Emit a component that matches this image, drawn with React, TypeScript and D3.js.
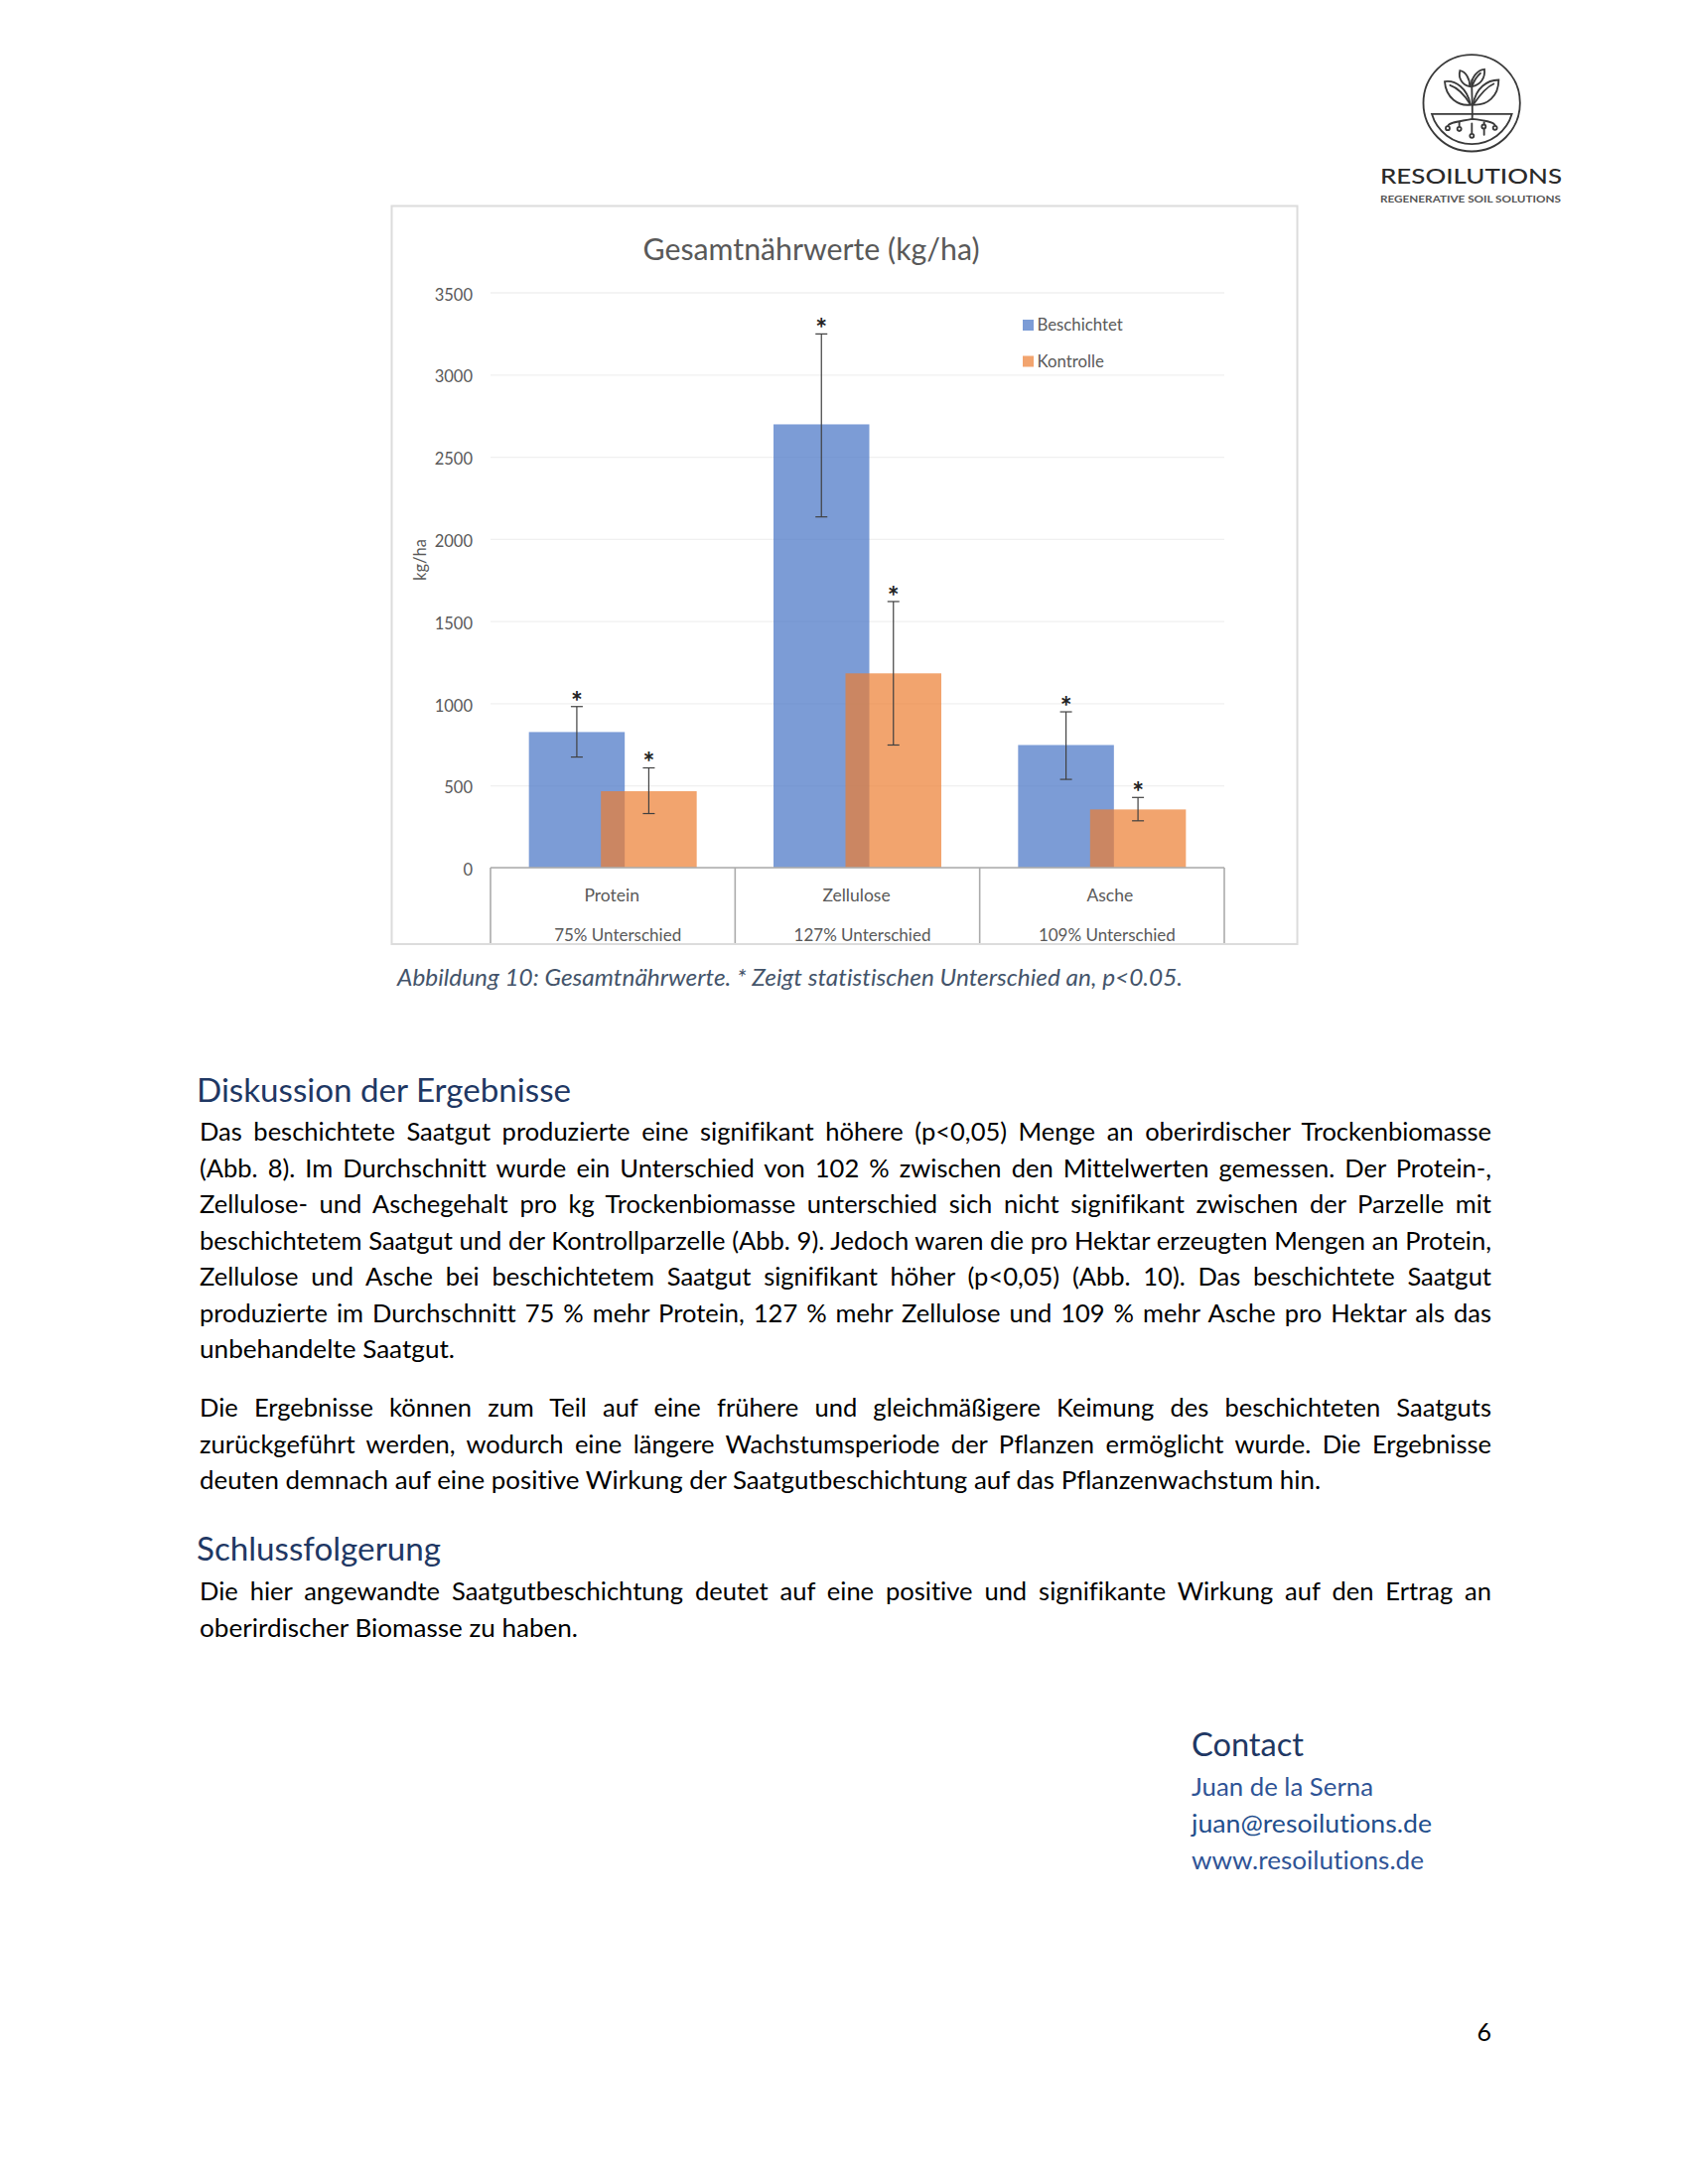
import * as d3 from 'd3';
import { useRef, useEffect } from 'react';

const categories = ['Protein', 'Zellulose', 'Asche'];
const differences = ['75% Unterschied', '127% Unterschied', '109% Unterschied'];
const seriesNames = ['Beschichtet', 'Kontrolle'];
const beschichtet = [825, 2697, 746];
const kontrolle = [465, 1182, 354];
const beschichtetLow = [673, 2134, 537];
const beschichtetHigh = [980, 3247, 948];
const kontrolleLow = [329, 746, 285];
const kontrolleHigh = [607, 1619, 427];
const yTicks = [0, 500, 1000, 1500, 2000, 2500, 3000, 3500];

const paragraph1 = [
    'Das beschichtete Saatgut produzierte eine signifikant höhere (p<0,05) Menge an oberirdischer Trockenbiomasse',
    '(Abb. 8). Im Durchschnitt wurde ein Unterschied von 102 % zwischen den Mittelwerten gemessen. Der Protein-,',
    'Zellulose- und Aschegehalt pro kg Trockenbiomasse unterschied sich nicht signifikant zwischen der Parzelle mit',
    'beschichtetem Saatgut und der Kontrollparzelle (Abb. 9). Jedoch waren die pro Hektar erzeugten Mengen an Protein,',
    'Zellulose und Asche bei beschichtetem Saatgut signifikant höher (p<0,05) (Abb. 10). Das beschichtete Saatgut',
    'produzierte im Durchschnitt 75 % mehr Protein, 127 % mehr Zellulose und 109 % mehr Asche pro Hektar als das',
    'unbehandelte Saatgut.',
];
const paragraph2 = [
    'Die Ergebnisse können zum Teil auf eine frühere und gleichmäßigere Keimung des beschichteten Saatguts',
    'zurückgeführt werden, wodurch eine längere Wachstumsperiode der Pflanzen ermöglicht wurde. Die Ergebnisse',
    'deuten demnach auf eine positive Wirkung der Saatgutbeschichtung auf das Pflanzenwachstum hin.',
];
const paragraph3 = [
    'Die hier angewandte Saatgutbeschichtung deutet auf eine positive und signifikante Wirkung auf den Ertrag an',
    'oberirdischer Biomasse zu haben.',
];
const contactLines = ['Juan de la Serna', 'juan@resoilutions.de', 'www.resoilutions.de'];

const FONT = 'Lato, "Noto Sans", sans-serif';
const colors = ['#4472C4', '#ED7D31'];
const barWidth = 96.5;
const pairOffset = 36.25;
const labelNudge = [-1, -1, 8];
const diffNudge = [5, 5, 5];

const App = () => {
    const svgRef = useRef<SVGSVGElement | null>(null);

    useEffect(() => {
        const svg = d3.select(svgRef.current);
        svg.selectAll('*').remove();
        svg.style('font-family', FONT).style('font-variant-ligatures', 'none');

        // text helper, width is optional and squeezes the line to the measured width of the reference
        const put = (parent: any, str: string, x: number, y: number, size: number, fill: string, width?: number) => {
            const t = parent.append('text')
                .attr('x', x)
                .attr('y', y)
                .attr('font-size', size)
                .attr('fill', fill)
                .text(str);
            if (width) t.attr('textLength', width).attr('lengthAdjust', 'spacingAndGlyphs');
            return t;
        };

        // chart frame
        svg.append('rect')
            .attr('x', 394.5).attr('y', 207.5)
            .attr('width', 912).attr('height', 743.5)
            .attr('fill', '#fff')
            .attr('stroke', '#DCDCDC')
            .attr('stroke-width', 2);

        const x = d3.scaleBand().domain(categories).range([494, 1233]);
        const inner = d3.scalePoint().domain(seriesNames).range([-pairOffset, pairOffset]);
        const y = d3.scaleLinear().domain([0, 3500]).range([874, 294.5]);
        const cx = (c: string, s: string) => x(c)! + x.bandwidth() / 2 + inner(s)!;

        // grid and y labels
        const yAxis = svg.append('g')
            .attr('transform', 'translate(494,0)')
            .call(d3.axisLeft(y).tickValues(yTicks).tickSize(-739).tickPadding(18).tickFormat(d => String(d)));
        yAxis.select('.domain').remove();
        yAxis.selectAll('.tick line').attr('stroke', '#F0F0F0').attr('stroke-width', 1.3);
        yAxis.selectAll('.tick text')
            .attr('fill', '#595959')
            .attr('font-size', 16.5)
            .attr('dy', '0.46em')
            .attr('font-family', FONT);

        svg.append('text')
            .attr('transform', 'translate(429,564) rotate(-90)')
            .attr('text-anchor', 'middle')
            .attr('font-size', 16.5)
            .attr('fill', '#595959')
            .text('kg/ha');

        put(svg, 'Gesamtnährwerte (kg/ha)', 647.5, 261.5, 30, '#595959', 339);

        // bars
        const rows = [
            { name: seriesNames[0], values: beschichtet, low: beschichtetLow, high: beschichtetHigh, color: colors[0] },
            { name: seriesNames[1], values: kontrolle, low: kontrolleLow, high: kontrolleHigh, color: colors[1] },
        ];
        rows.forEach(r => {
            svg.append('g').selectAll('rect')
                .data(categories)
                .enter()
                .append('rect')
                .attr('x', c => cx(c, r.name) - barWidth / 2)
                .attr('y', (_, i) => y(r.values[i]))
                .attr('width', barWidth)
                .attr('height', (_, i) => y(0) - y(r.values[i]))
                .attr('fill', r.color)
                .attr('fill-opacity', 0.7);
        });

        // error bars and the asterisks
        rows.forEach(r => {
            const g = svg.append('g').attr('stroke', '#404040').attr('stroke-width', 1.2);
            categories.forEach((c, i) => {
                const px = cx(c, r.name);
                g.append('line').attr('x1', px).attr('x2', px).attr('y1', y(r.low[i])).attr('y2', y(r.high[i]));
                [r.low[i], r.high[i]].forEach(v => {
                    g.append('line')
                        .attr('x1', px - 6).attr('x2', px + 6)
                        .attr('y1', y(v)).attr('y2', y(v));
                });
                svg.append('text')
                    .attr('x', px)
                    .attr('y', y(r.high[i]) + 5)
                    .attr('text-anchor', 'middle')
                    .attr('font-size', 28)
                    .attr('font-weight', 700)
                    .attr('fill', '#222')
                    .text('*');
            });
        });

        // category box under the plot
        const boxBottom = 950;
        const box = svg.append('g').attr('stroke', '#ABABAB').attr('stroke-width', 1.6);
        box.append('line').attr('x1', 494).attr('x2', 1233).attr('y1', y(0)).attr('y2', y(0));
        [...categories.map(c => x(c)!), 1233].forEach(px => {
            box.append('line').attr('x1', px).attr('x2', px).attr('y1', y(0)).attr('y2', boxBottom);
        });
        categories.forEach((c, i) => {
            put(svg, c, x(c)! + x.bandwidth() / 2 + labelNudge[i], 908, 17.5, '#595959').attr('text-anchor', 'middle');
            put(svg, differences[i], x(c)! + x.bandwidth() / 2 + diffNudge[i], 948, 17, '#595959').attr('text-anchor', 'middle');
        });

        // legend
        seriesNames.forEach((name, i) => {
            const ly = 327.5 + i * 36.5;
            svg.append('rect')
                .attr('x', 1030).attr('y', ly - 5.5)
                .attr('width', 11).attr('height', 11)
                .attr('fill', colors[i])
                .attr('fill-opacity', 0.7);
            put(svg, name, 1044.5, ly + 5.5, 16.8, '#595959');
        });

        put(svg, 'Abbildung 10: Gesamtnährwerte. * Zeigt statistischen Unterschied an, p<0.05.', 400, 993, 23, '#44546A', 791)
            .attr('font-style', 'italic');

        // document text
        const bodyX = 201;
        const bodyW = 1301;
        const bodySize = 25.5;
        const paragraph = (lines: string[], firstY: number, lastWidth: number) => {
            lines.forEach((line, i) => {
                const ly = firstY + i * 36.5;
                const last = i === lines.length - 1;
                const t = put(svg, line, bodyX, ly, bodySize, '#000', last ? lastWidth : undefined);
                if (!last) {
                    const natural = (t.node() as SVGTextElement).getComputedTextLength();
                    const gaps = line.split(' ').length - 1;
                    t.attr('word-spacing', (bodyW - natural) / gaps);
                }
            });
        };
        put(svg, 'Diskussion der Ergebnisse', 198, 1109.5, 32, '#1F3864', 377);
        paragraph(paragraph1, 1149.4, 257);
        paragraph(paragraph2, 1427, 1129);
        put(svg, 'Schlussfolgerung', 198, 1572, 32, '#1F3864', 246);
        paragraph(paragraph3, 1612.4, 381);

        put(svg, 'Contact', 1200, 1769.4, 32, '#1F3864', 113);
        const contactWidths = [183, 242, 234];
        contactLines.forEach((line, i) => {
            put(svg, line, 1200, 1809.4 + i * 36.7, 25, i === 1 ? '#1F4E8C' : '#2F5496', contactWidths[i]);
        });
        put(svg, '6', 1487.5, 2056.4, 25, '#000');

        // logo, drawn in the 3x units of the crop it was read from
        const logo = svg.append('g')
            .attr('transform', 'translate(1341,30.5) scale(0.3333)')
            .attr('fill', 'none')
            .attr('stroke', '#3A3A3A')
            .attr('stroke-width', 5.5)
            .attr('stroke-linecap', 'round');
        logo.append('circle').attr('cx', 423.5).attr('cy', 220).attr('r', 146);
        const logoPaths = [
            'M303 253 L545 253 A126 126 0 0 1 303 253 Z',
            'M425 268 C427 230 423 190 424 150',
            'M342 155 C375 150 410 175 420 225 C385 230 345 205 342 155 Z',
            'M358 166 C385 175 405 200 420 225',
            'M505 150 C470 150 435 175 428 225 C470 228 505 200 505 150 Z',
            'M490 162 C465 172 445 200 428 225',
            'M388 122 C405 125 418 145 418 170 C395 165 382 145 388 122 Z',
            'M462 118 C440 120 420 145 424 170 C450 165 465 145 462 118 Z',
            'M450 130 C438 140 430 155 424 170',
            'M352 288 C356 278 385 276 425 268 C460 272 490 276 495 288',
            'M386 278 L386 304',
            'M424 282 L424 312',
            'M461 278 L461 316',
        ];
        logoPaths.forEach(d => logo.append('path').attr('d', d));
        [[351, 296], [386, 298], [424, 319], [460, 291], [494, 295]].forEach(([a, b]) => {
            logo.append('circle').attr('cx', a).attr('cy', b).attr('r', 6).attr('fill', '#fff');
        });
        put(svg, 'RESOILUTIONS', 1390, 184.5, 22, '#2A2A2A', 183).attr('font-weight', 500);
        put(svg, 'REGENERATIVE SOIL SOLUTIONS', 1390, 204, 10, '#555', 182).attr('font-weight', 700);
    }, []);

    return (
        <svg
            ref={svgRef}
            width={1700}
            height={2200}
            style={{ position: 'absolute', left: 0, top: 0, background: '#fff' }}
        />
    );
};

export default App;
